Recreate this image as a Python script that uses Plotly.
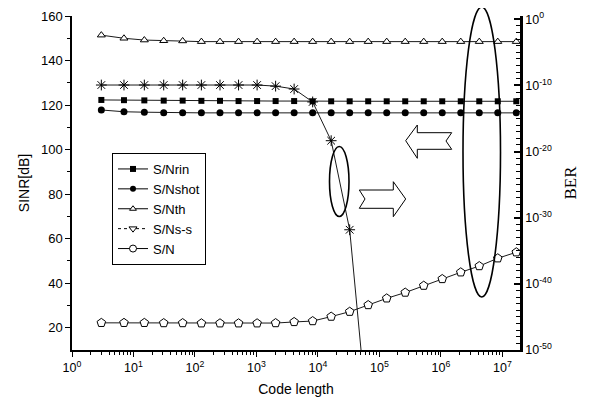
import plotly.graph_objects as go

code_length = [3, 7, 15, 31, 63, 127, 255, 511, 1023, 2047, 4095, 8191, 16383,
               32767, 65535, 131071, 262143, 524287, 1048575, 2097151, 4194303,
               8388607, 16777215]

sn_rin = [122.3, 122.2, 122.1, 122.0, 122.0, 121.9, 121.9, 121.8, 121.8, 121.8, 121.8,
          121.7, 121.7, 121.7, 121.7, 121.7, 121.7, 121.7, 121.7, 121.7, 121.7, 121.7, 121.7]
sn_shot = [117.8, 117.0, 116.8, 116.6, 116.6, 116.5, 116.5, 116.5, 116.5, 116.5, 116.5,
           116.5, 116.5, 116.5, 116.5, 116.5, 116.5, 116.5, 116.5, 116.5, 116.5, 116.5, 116.5]
sn_th = [151.4, 150.0, 149.2, 148.9, 148.8, 148.5, 148.5, 148.5, 148.5, 148.5, 148.5,
         148.5, 148.5, 148.5, 148.5, 148.5, 148.5, 148.5, 148.5, 148.5, 148.5, 148.5, 148.5]
sn_ss = [129.0, 129.0, 129.0, 129.0, 129.0, 129.0, 129.0, 129.0, 129.0, 128.5, 127.2,
         121.4, 104.0, 64.0, -24.0]
sn_total = [22.2, 22.2, 22.2, 22.1, 22.1, 22.0, 22.0, 22.0, 22.0, 22.1, 22.6,
            23.0, 25.0, 27.2, 30.2, 33.2, 35.8, 38.9, 41.9, 44.9, 47.7, 51.2, 53.9]

names = ["S/Nrin", "S/Nshot", "S/Nth", "S/Ns-s", "S/N"]
x_ticks = [1, 10, 100, 1000, 1e4, 1e5, 1e6, 1e7]
x_ticktext = ["10<sup>%d</sup>" % i for i in range(8)]
ber_ticks = [1e0, 1e-10, 1e-20, 1e-30, 1e-40, 1e-50]
ber_ticktext = ["10<sup>0</sup>", "10<sup>-10</sup>", "10<sup>-20</sup>",
                "10<sup>-30</sup>", "10<sup>-40</sup>", "10<sup>-50</sup>"]
ber_minor = [10.0 ** (-k) for k in range(1, 50) if k % 10 != 0]

FONT = "Liberation Sans, Arial, sans-serif"
LW = 0.9

fig = go.Figure()

plot_specs = [
    (sn_rin, dict(symbol="square", size=6, color="black")),
    (sn_shot, dict(symbol="circle", size=7, color="black")),
    (sn_th, dict(symbol="triangle-up", size=7, color="white", line=dict(color="black", width=1))),
    (sn_ss, dict(symbol="asterisk-open", size=9, color="black", line=dict(color="black", width=1))),
    (sn_total, dict(symbol="pentagon", size=9, color="white", line=dict(color="black", width=1))),
]
for vals, mk in plot_specs:
    fig.add_trace(go.Scatter(x=code_length[:len(vals)], y=vals, mode="lines+markers",
                             line=dict(color="black", width=LW), marker=mk,
                             showlegend=False, cliponaxis=True))

legend_markers = [
    dict(symbol="square", size=6, color="black"),
    dict(symbol="circle", size=6, color="black"),
    dict(symbol="triangle-up", size=6, color="white", line=dict(color="black", width=1)),
    dict(symbol="triangle-down", size=7, color="white", line=dict(color="black", width=1)),
    dict(symbol="circle", size=7, color="white", line=dict(color="black", width=1)),
]
legend_dash = ["solid", "solid", "solid", "dot", "solid"]
for nm, mk, ds in zip(names, legend_markers, legend_dash):
    fig.add_trace(go.Scatter(x=[None], y=[None], mode="lines+markers", name=nm,
                             line=dict(color="black", width=1, dash=ds), marker=mk))

# dummy trace to activate the BER axis
fig.add_trace(go.Scatter(x=[None], y=[None], yaxis="y2", showlegend=False, hoverinfo="skip"))

# plot area in screenshot pixels; the page body adds an 8 px margin all round
OFF = 8
W, H = 592 - 2 * OFF, 405 - 2 * OFF
L, R, T, B = 72, 520, 16, 350
def px(x):
    return (x - L) / (R - L)
def py(y):
    return (B - y) / (B - T)

# ellipses
fig.add_shape(type="circle", xref="paper", yref="paper",
              x0=px(463), x1=px(500.5), y0=py(297), y1=py(7),
              line=dict(color="black", width=1.6))
fig.add_shape(type="circle", xref="paper", yref="paper",
              x0=px(329.5), x1=px(349), y0=py(216.5), y1=py(146.5),
              line=dict(color="black", width=1.6))

def path(pts):
    s = "M " + " L ".join("%.5f,%.5f" % (px(a), py(b)) for a, b in pts) + " Z"
    return s

left_arrow = [(405.7, 140.7), (417.3, 125), (417.3, 132.7), (451.7, 132.7), (446, 141),
              (451.7, 149.3), (417.3, 149.3), (417.3, 158.3)]
right_arrow = [(405.7, 199), (393.3, 216.7), (393.3, 208.3), (359.3, 208.3), (365, 199),
               (359.3, 190), (393.3, 190), (393.3, 181.7)]
for arr in (left_arrow, right_arrow):
    fig.add_shape(type="path", xref="paper", yref="paper", path=path(arr),
                  line=dict(color="black", width=1), fillcolor="white")

fig.update_layout(
    width=W, height=H,
    margin=dict(l=L - OFF, r=W - (R - OFF), t=T - OFF, b=H - (B - OFF), autoexpand=False),
    paper_bgcolor="white", plot_bgcolor="white",
    font=dict(family=FONT, size=12, color="black"),
    showlegend=True,
    legend=dict(x=px(112), y=py(153), xanchor="left", yanchor="top",
                bordercolor="black", borderwidth=1, bgcolor="white",
                font=dict(family=FONT, size=13, color="black"),
                tracegroupgap=0, itemwidth=30),
    xaxis=dict(type="log", range=[0, 7.285], showgrid=False, zeroline=False,
               automargin=False,
               showline=True, linecolor="black", linewidth=1.5,
               ticks="outside", ticklen=5, tickcolor="black", tickwidth=1,
               tickvals=x_ticks, ticktext=x_ticktext,
               tickfont=dict(family=FONT, size=12.5),
               minor=dict(ticks="outside", ticklen=3, tickcolor="black", dtick="D1", showgrid=False),
               title=dict(text="Code length", font=dict(family=FONT, size=14), standoff=10)),
    yaxis=dict(range=[10, 160], showgrid=False, zeroline=False,
               automargin=False,
               showline=True, linecolor="black", linewidth=1.5,
               ticks="outside", ticklen=5, tickcolor="black", tickwidth=1,
               tickvals=[20, 40, 60, 80, 100, 120, 140, 160],
               tickfont=dict(family=FONT, size=13),
               minor=dict(ticks="outside", ticklen=3, tickcolor="black",
                          tickvals=[30, 50, 70, 90, 110, 130, 150], showgrid=False),
               title=dict(text="SINR[dB]", font=dict(family=FONT, size=14), standoff=8)),
    yaxis2=dict(type="log", range=[-50, 0.5], overlaying="y", side="right",
                showgrid=False, zeroline=False,
                automargin=False,
                showline=True, linecolor="black", linewidth=2.5,
                ticks="inside", ticklen=6, tickcolor="black", tickwidth=1.5,
                tickvals=ber_ticks, ticktext=ber_ticktext,
                tickfont=dict(family=FONT, size=12.5),
                minor=dict(ticks="inside", ticklen=4, tickcolor="black", tickwidth=1.2,
                           tickvals=ber_minor, showgrid=False),
                title=dict(text="BER", font=dict(family="Liberation Serif, Times New Roman, serif", size=17),
                           standoff=14)),
)

fig.write_html("out.html")
